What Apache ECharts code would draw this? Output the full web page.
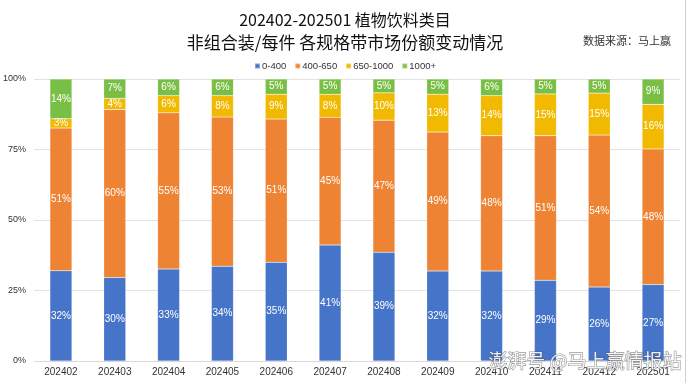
<!DOCTYPE html>
<html>
<head>
<meta charset="utf-8">
<script src="https://cdn.jsdelivr.net/npm/echarts@6/dist/echarts.min.js"></script>
<style>html,body{margin:0;padding:0;background:#fff;}#c{width:690px;height:383px;}</style>
</head>
<body>
<div id="c"></div>
<script>
const categories = ['202402','202403','202404','202405','202406','202407','202408','202409','202410','202411','202412','202501'];
const seriesNames = ['0-400','400-650','650-1000','1000+'];
const s0to400 =    [32.0, 29.6, 32.6, 33.6, 35.0, 41.1, 38.6, 31.9, 31.9, 28.6, 26.2, 27.1];
const s400to650 =  [50.6, 59.6, 55.4, 52.9, 50.8, 45.3, 46.8, 49.3, 48.0, 51.3, 53.9, 48.1];
const s650to1000 = [3.3, 3.9, 6.1, 7.6, 8.8, 8.2, 9.7, 13.4, 14.2, 14.8, 14.9, 15.8];
const s1000plus =  [14.1, 6.9, 5.9, 5.9, 5.4, 5.4, 4.9, 5.4, 5.9, 5.3, 5.0, 9.0];
const yTicks = [0, 25, 50, 75, 100];
const colors = ['#4674C9', '#EE8433', '#F2B901', '#7ABF45'];

const allData = [s0to400, s400to650, s650to1000, s1000plus];
const chart = echarts.init(document.getElementById('c'), null, {renderer: 'canvas'});
const font = '"Noto Sans CJK SC", "Liberation Sans", sans-serif';
chart.setOption({
  animation: false,
  backgroundColor: '#fff',
  color: colors,
  title: [
    {text: '202402-202501 植物饮料类目', left: 'center', top: 7,
     textStyle: {fontFamily: font, fontSize: 16, fontWeight: 'normal', color: '#111'}},
    {text: '非组合装/每件 各规格带市场份额变动情况', left: 'center', top: 29,
     textStyle: {fontFamily: font, fontSize: 17, fontWeight: 'normal', color: '#111'}},
    {text: '数据来源：马上赢', right: 14, top: 30,
     textStyle: {fontFamily: font, fontSize: 11, fontWeight: 'normal', color: '#333'}}
  ],
  legend: {
    top: 56, left: 'center',
    itemWidth: 5, itemHeight: 5, itemGap: 8,
    icon: 'rect',
    textStyle: {fontFamily: '"Liberation Sans", sans-serif', fontSize: 9.5, color: '#333', padding: [0,0,0,-3]},
    data: seriesNames
  },
  grid: {left: 33, right: 10, top: 79, bottom: 22, containLabel: false},
  xAxis: {
    type: 'category', data: categories,
    axisLine: {lineStyle: {color: '#d9d9d9'}},
    axisTick: {show: false},
    axisLabel: {fontFamily: '"Liberation Sans", sans-serif', fontSize: 10, color: '#333', margin: 6}
  },
  yAxis: {
    type: 'value', min: yTicks[0], max: yTicks[yTicks.length - 1], interval: 25,
    axisLabel: {formatter: v => v + '%', fontFamily: '"Liberation Sans", sans-serif', fontSize: 9, color: '#333', margin: 8},
    splitLine: {lineStyle: {color: '#e3e3e3'}},
    axisLine: {show: false}, axisTick: {show: false}
  },
  series: seriesNames.map((n, i) => ({
    name: n, type: 'bar', stack: 'total', barWidth: 22,
    data: allData[i],
    itemStyle: {borderColor: 'rgba(255,255,255,0.35)', borderWidth: 0.5},
    label: {show: true, position: 'inside', color: '#fff', fontSize: 10,
      fontFamily: '"Liberation Sans", sans-serif',
      formatter: p => Math.round(p.value) + '%'}
  })),
  graphic: [
    {type: 'line', shape: {x1: 685.5, y1: 0, x2: 685.5, y2: 383}, style: {stroke: '#cfcfcf', lineWidth: 1}},
    {type: 'text', right: 8, bottom: 12, z: 100,
     style: {text: '澎湃号 @马上赢情报站', font: '19px "Noto Sans CJK SC"', fill: 'rgba(255,255,255,0.9)', stroke: 'rgba(80,80,80,0.6)', lineWidth: 1.2}}
  ]
});
</script>
</body>
</html>
